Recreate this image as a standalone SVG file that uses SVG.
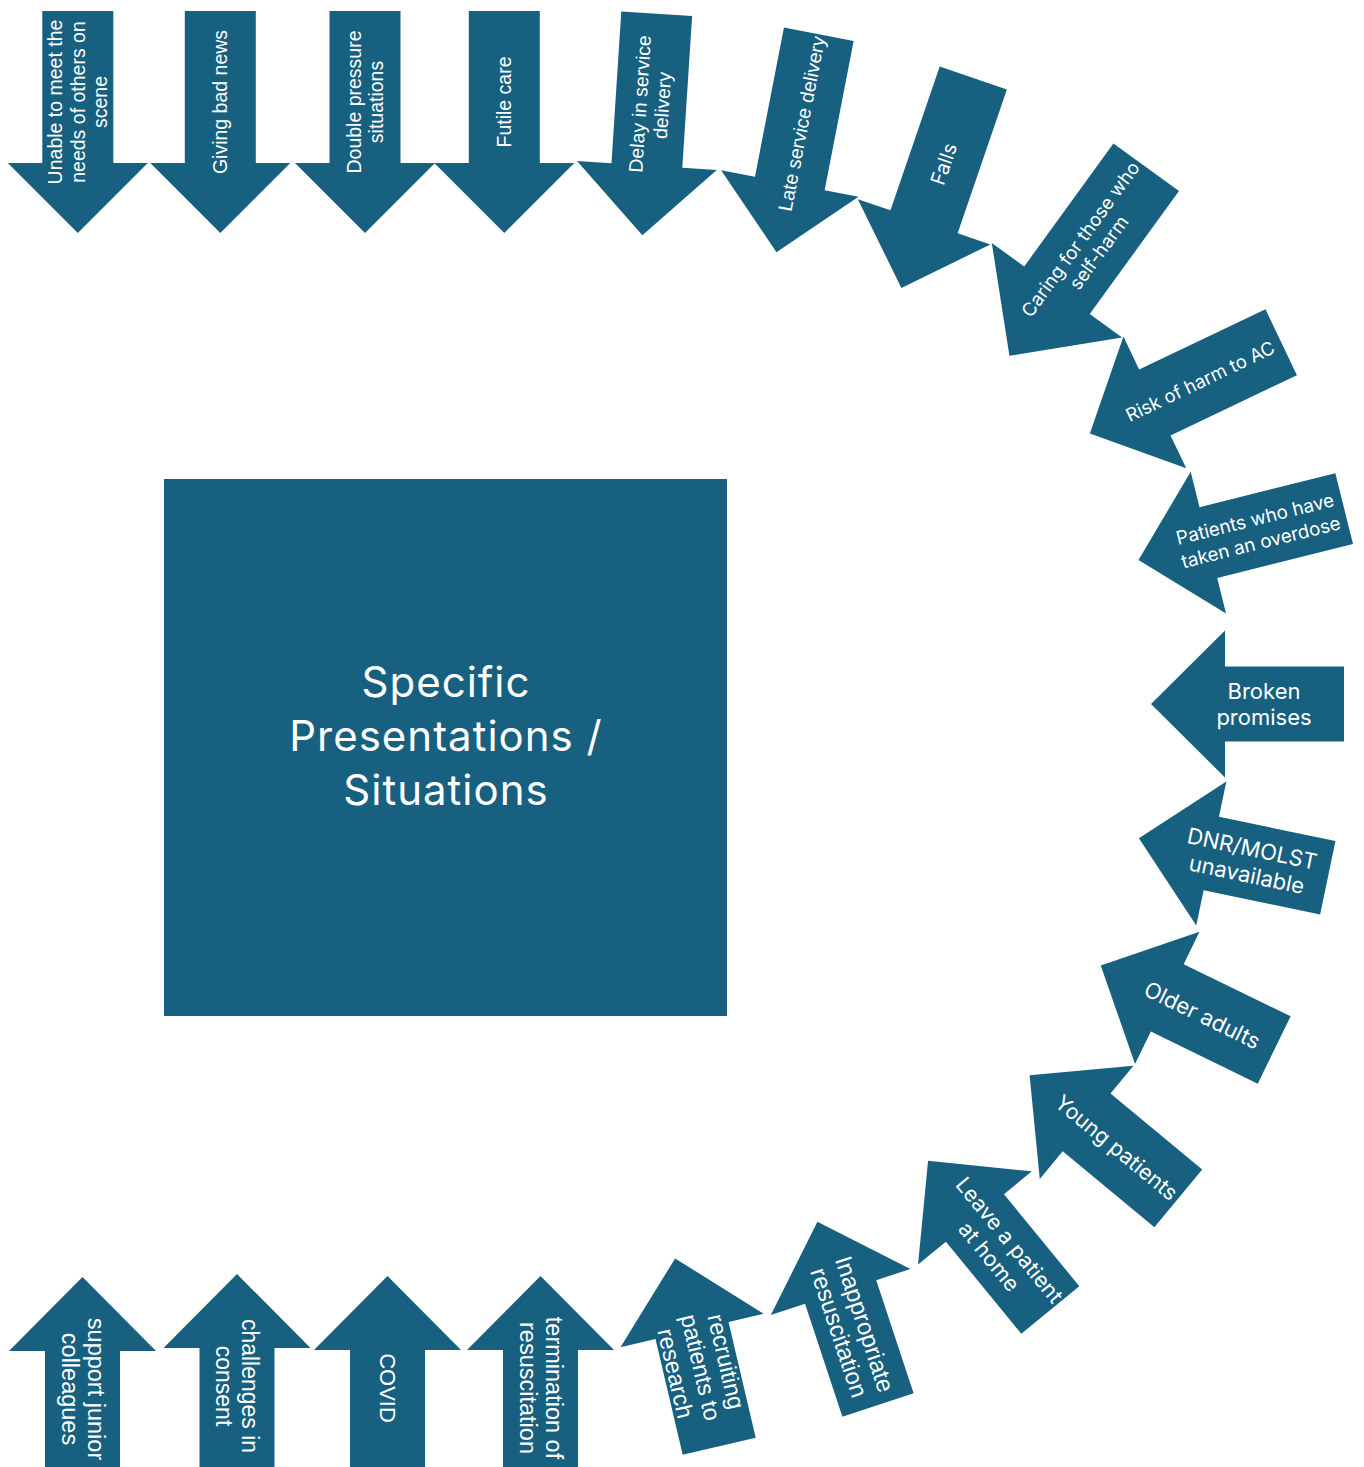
<svg xmlns="http://www.w3.org/2000/svg" xmlns:xlink="http://www.w3.org/1999/xlink" width="1364" height="1467" viewBox="0 0 1364 1467">
  <style>
    .shape { fill: #17607f; }
    .lbl { fill: #ffffff; dominant-baseline: central; text-anchor: middle; }
    .arial { font-family: "Liberation Sans", Arial, sans-serif; }
    .sans { font-family: Inter, "Noto Sans", sans-serif; }
    .title { fill: #ffffff; font-family: Inter, "Noto Sans", sans-serif; font-size: 42px; letter-spacing: 1px; text-anchor: middle; }
  </style>
  <defs>
    <!-- block arrows drawn tail at origin, pointing along +x -->
    <path id="arrowA" d="M0,-35.5 H152 V-70 L222,0 L152,70 V35.5 H0 Z"/>
    <path id="arrowR" d="M0,-36.5 H140 V-73 L212,0 L140,73 V36.5 H0 Z"/>
    <path id="arrowC" d="M0,-40.5 H152 V-80.5 L233,0 L152,80.5 V40.5 H0 Z"/>
    <path id="arrowB" d="M0,-37.5 H119 V-73.5 L193,0 L119,73.5 V37.5 H0 Z"/>
  </defs>
  <rect width="1364" height="1467" fill="#ffffff"/>

  <!-- central box -->
  <g id="centre">
    <rect class="shape" x="164" y="479" width="563" height="537"/>
    <text class="title" x="446" y="697">Specific</text>
    <text class="title" x="446" y="751">Presentations /</text>
    <text class="title" x="446" y="805">Situations</text>
  </g>

  <g id="arrows">
    <g id="a-unable" transform="translate(77.8,11) rotate(90)">
      <use xlink:href="#arrowA" class="shape"/>
      <text class="lbl arial" font-size="19.5" transform="translate(91,0) rotate(180)">
        <tspan x="0" y="-22.5">Unable to meet the</tspan><tspan x="0" y="0">needs of others on</tspan><tspan x="0" y="22.5">scene</tspan>
      </text>
    </g>
    <g id="a-badnews" transform="translate(220.3,11) rotate(90)">
      <use xlink:href="#arrowA" class="shape"/>
      <text class="lbl arial" font-size="19.5" transform="translate(91,0) rotate(180)"><tspan x="0" y="0">Giving bad news</tspan></text>
    </g>
    <g id="a-double" transform="translate(365,11) rotate(90)">
      <use xlink:href="#arrowA" class="shape"/>
      <text class="lbl arial" font-size="19.5" transform="translate(91,0) rotate(180)">
        <tspan x="0" y="-11.25">Double pressure</tspan><tspan x="0" y="11.25">situations</tspan>
      </text>
    </g>
    <g id="a-futile" transform="translate(504.3,11) rotate(90)">
      <use xlink:href="#arrowA" class="shape"/>
      <text class="lbl arial" font-size="19.5" transform="translate(91,0) rotate(180)"><tspan x="0" y="0">Futile care</tspan></text>
    </g>
    <g id="a-delay" transform="translate(656.7,13.8) rotate(93.7)">
      <use xlink:href="#arrowA" class="shape"/>
      <text class="lbl arial" font-size="19.5" transform="translate(91,0) rotate(180)">
        <tspan x="0" y="-11.25">Delay in service</tspan><tspan x="0" y="11.25">delivery</tspan>
      </text>
    </g>
    <g id="a-late" transform="translate(818.8,34.3) rotate(101)">
      <use xlink:href="#arrowA" class="shape"/>
      <text class="lbl arial" font-size="19.5" transform="translate(91,0) rotate(180)"><tspan x="0" y="0">Late service delivery</tspan></text>
    </g>
    <g id="a-falls" transform="translate(973.3,78) rotate(108.9)">
      <use xlink:href="#arrowA" class="shape"/>
      <text class="lbl sans" font-size="20" transform="translate(91,0) rotate(180)"><tspan x="0" y="0">Falls</tspan></text>
    </g>
    <g id="a-selfharm" transform="translate(1146.2,167.2) rotate(125.95)">
      <use xlink:href="#arrowC" class="shape"/>
      <text class="lbl sans" font-size="18.8" transform="translate(97,0) rotate(180)">
        <tspan x="0" y="-11.3">Caring for those who</tspan><tspan x="0" y="11.3">self-harm</tspan>
      </text>
    </g>
    <g id="a-risk" transform="translate(1281.2,342.2) rotate(154.5)">
      <use xlink:href="#arrowR" class="shape"/>
      <text class="lbl sans" font-size="18.5" transform="translate(90,0) rotate(180)"><tspan x="0" y="0">Risk of harm to AC</tspan></text>
    </g>
    <g id="a-overdose" transform="translate(1344.2,508.7) rotate(166)">
      <use xlink:href="#arrowR" class="shape"/>
      <text class="lbl sans" font-size="18.8" transform="translate(89,0) rotate(180)">
        <tspan x="0" y="-12">Patients who have</tspan><tspan x="0" y="12">taken an overdose</tspan>
      </text>
    </g>
    <g id="a-broken" transform="translate(1344,704) rotate(180)">
      <use xlink:href="#arrowB" class="shape"/>
      <text class="lbl sans" font-size="22" transform="translate(80,0) rotate(180)">
        <tspan x="0" y="-12.8">Broken</tspan><tspan x="0" y="12.8">promises</tspan>
      </text>
    </g>
    <g id="a-dnr" transform="translate(1327.8,877.8) rotate(191.8)">
      <use xlink:href="#arrowB" class="shape"/>
      <text class="lbl sans" font-size="22" transform="translate(80,0) rotate(180)">
        <tspan x="0" y="-13.2">DNR/MOLST</tspan><tspan x="0" y="13.2">unavailable</tspan>
      </text>
    </g>
    <g id="a-older" transform="translate(1274.2,1050) rotate(206)">
      <use xlink:href="#arrowB" class="shape"/>
      <text class="lbl sans" font-size="22" transform="translate(80,0) rotate(180)"><tspan x="0" y="0">Older adults</tspan></text>
    </g>
    <g id="a-young" transform="translate(1178.3,1198.3) rotate(219.6)">
      <use xlink:href="#arrowB" class="shape"/>
      <text class="lbl sans" font-size="21.5" transform="translate(80,0) rotate(180)"><tspan x="0" y="0">Young patients</tspan></text>
    </g>
    <g id="a-leave" transform="translate(1050.3,1310) rotate(230.7)">
      <use xlink:href="#arrowB" class="shape"/>
      <text class="lbl sans" font-size="21.5" transform="translate(80,0) rotate(180)">
        <tspan x="0" y="-13">Leave a patient</tspan><tspan x="0" y="13">at home</tspan>
      </text>
    </g>
    <g id="a-inappropriate" transform="translate(878,1405) rotate(251.7)">
      <use xlink:href="#arrowB" class="shape"/>
      <text class="lbl arial" font-size="24" transform="translate(81,0) rotate(180)">
        <tspan x="0" y="-13.5">Inappropriate</tspan><tspan x="0" y="13.5">resuscitation</tspan>
      </text>
    </g>
    <g id="a-research" transform="translate(719.2,1446.3) rotate(256.8)">
      <use xlink:href="#arrowB" class="shape"/>
      <text class="lbl arial" font-size="23.5" transform="translate(81,0) rotate(180)">
        <tspan x="0" y="-26">recruiting</tspan><tspan x="0" y="0">patients to</tspan><tspan x="0" y="26">research</tspan>
      </text>
    </g>
    <g id="a-termination" transform="translate(540.5,1469) rotate(270)">
      <use xlink:href="#arrowB" class="shape"/>
      <text class="lbl arial" font-size="23.5" transform="translate(81,0) rotate(180)">
        <tspan x="0" y="-13">termination of</tspan><tspan x="0" y="13">resuscitation</tspan>
      </text>
    </g>
    <g id="a-covid" transform="translate(387.5,1469) rotate(270)">
      <use xlink:href="#arrowB" class="shape"/>
      <text class="lbl arial" font-size="22" transform="translate(81,0) rotate(180)"><tspan x="0" y="0">COVID</tspan></text>
    </g>
    <g id="a-consent" transform="translate(237,1467) rotate(270)">
      <use xlink:href="#arrowB" class="shape"/>
      <text class="lbl arial" font-size="23" transform="translate(81,0) rotate(180)">
        <tspan x="0" y="-13">challenges in</tspan><tspan x="0" y="13">consent</tspan>
      </text>
    </g>
    <g id="a-junior" transform="translate(82.5,1470) rotate(270)">
      <use xlink:href="#arrowB" class="shape"/>
      <text class="lbl arial" font-size="23.5" transform="translate(81,0) rotate(180)">
        <tspan x="0" y="-13">support junior</tspan><tspan x="0" y="13">colleagues</tspan>
      </text>
    </g>
  </g>
</svg>
